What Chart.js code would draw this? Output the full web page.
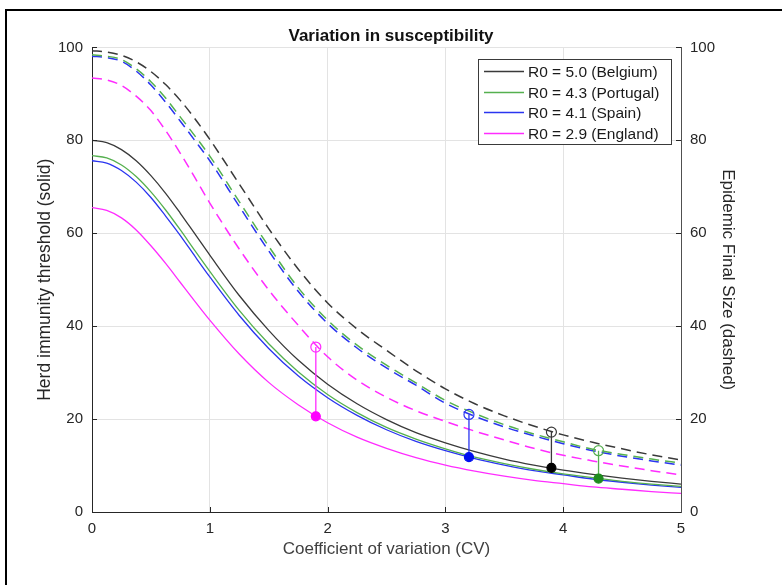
<!DOCTYPE html>
<html>
<head>
<meta charset="utf-8">
<title>Variation in susceptibility</title>
<script src="https://cdn.jsdelivr.net/npm/chart.js@4.4.1/dist/chart.umd.min.js"></script>
<style>
  html, body { margin: 0; padding: 0; background: #fff; }
  #wrap { position: relative; width: 782px; height: 585px; }
</style>
</head>
<body>
<div id="wrap"><canvas id="grafico" width="782" height="585"></canvas></div>
<script>
// coefficient of variation (x axis)
const cv = [0, 0.125, 0.25, 0.375, 0.5, 0.625, 0.75, 0.875, 1, 1.25, 1.5, 1.75, 2, 2.25, 2.5, 2.75, 3, 3.25, 3.5, 3.75, 4, 4.25, 4.5, 4.75, 5];

const countries = ['Belgium', 'Portugal', 'Spain', 'England'];
const r0Values = [5.0, 4.3, 4.1, 2.9];

// herd immunity threshold (solid), %
const hitBelgium  = [80.0, 79.5, 78.0, 75.6, 72.4, 68.6, 64.3, 59.8, 55.3, 46.6, 39.1, 32.7, 27.5, 23.3, 19.9, 17.1, 14.9, 13.0, 11.4, 10.1, 9.0, 8.1, 7.3, 6.6, 6.0];
const hitPortugal = [76.7, 76.2, 74.7, 72.2, 68.9, 65.0, 60.7, 56.2, 51.8, 43.4, 36.2, 30.2, 25.3, 21.4, 18.2, 15.7, 13.6, 11.8, 10.4, 9.2, 8.2, 7.4, 6.6, 6.0, 5.5];
const hitSpain    = [75.6, 75.1, 73.5, 71.0, 67.7, 63.7, 59.5, 55.0, 50.6, 42.3, 35.2, 29.3, 24.6, 20.8, 17.7, 15.2, 13.2, 11.5, 10.1, 8.9, 8.0, 7.1, 6.4, 5.8, 5.3];
const hitEngland  = [65.5, 64.9, 63.3, 60.7, 57.3, 53.5, 49.4, 45.3, 41.3, 34.0, 27.9, 23.1, 19.2, 16.1, 13.7, 11.7, 10.1, 8.8, 7.7, 6.8, 6.1, 5.4, 4.9, 4.4, 4.0];

// epidemic final size (dashed), %
const fsBelgium  = [99.3, 99.0, 98.3, 96.9, 94.8, 92.0, 88.6, 84.6, 80.2, 70.6, 61.0, 52.3, 45.0, 39.4, 34.8, 30.4, 26.5, 23.3, 20.7, 18.5, 16.6, 15.0, 13.6, 12.3, 11.2];
const fsPortugal = [98.4, 98.1, 97.4, 95.4, 92.6, 89.1, 85.0, 80.9, 76.6, 66.8, 57.2, 48.3, 41.3, 35.9, 31.6, 27.8, 24.0, 21.2, 18.8, 16.8, 15.1, 13.5, 12.4, 11.4, 10.5];
const fsSpain    = [98.1, 97.8, 97.0, 94.9, 91.9, 88.2, 84.1, 79.9, 75.6, 65.8, 56.2, 47.5, 40.6, 35.3, 31.0, 27.3, 23.4, 20.6, 18.3, 16.4, 14.7, 13.2, 12.0, 11.0, 10.1];
const fsEngland  = [93.4, 93.0, 91.8, 89.5, 86.4, 82.1, 77.2, 71.9, 66.5, 56.6, 47.8, 40.2, 33.4, 28.4, 24.7, 21.8, 19.5, 17.4, 15.5, 13.7, 12.2, 11.0, 9.9, 8.9, 8.0];

// estimated CV per country (stems)
const stemCV  = [3.9, 4.3, 3.2, 1.9];
const stemHIT = [9.5, 7.2, 11.8, 20.6];
const stemFS  = [17.2, 13.2, 21.0, 35.5];

const hitSeries = [hitBelgium, hitPortugal, hitSpain, hitEngland];
const fsSeries = [fsBelgium, fsPortugal, fsSpain, fsEngland];

const lineColors = ['#3a3a3a', '#55b04f', '#2a35f0', '#ff2cff'];
const dotColors = ['#000000', '#1e8c1e', '#0010f0', '#ff00ff'];
const fonte = '"Liberation Sans", Arial, Helvetica, sans-serif';
const corTexto = '#262626';
const corGrade = '#e3e3e3';

function serieXY(ys) {
    return cv.map((x, i) => ({ x: x, y: ys[i] }));
}

const datasets = [];
countries.forEach((pais, i) => {
    datasets.push({
        label: 'stem ' + pais,
        data: [{ x: stemCV[i], y: stemHIT[i] }, { x: stemCV[i], y: stemFS[i] }],
        borderColor: lineColors[i],
        borderWidth: 1.3,
        pointRadius: [4.5, 5],
        pointBorderWidth: 1.2,
        pointBorderColor: [dotColors[i], lineColors[i]],
        pointBackgroundColor: [dotColors[i], 'rgba(255,255,255,0)'],
        yAxisID: 'y',
        order: 0
    });
});
countries.forEach((pais, i) => {
    datasets.push({
        label: 'R0 = ' + r0Values[i].toFixed(1) + ' (' + pais + ')',
        data: serieXY(hitSeries[i]),
        borderColor: lineColors[i],
        borderWidth: 1.3,
        pointRadius: 0,
        cubicInterpolationMode: 'monotone',
        yAxisID: 'y',
        order: 1
    });
});
countries.forEach((pais, i) => {
    datasets.push({
        label: 'final size ' + pais,
        data: serieXY(fsSeries[i]),
        borderColor: lineColors[i],
        borderWidth: 1.5,
        borderDash: [10, 6],
        pointRadius: 0,
        cubicInterpolationMode: 'monotone',
        yAxisID: 'y1',
        order: 2
    });
});

const molduraPlugin = {
    id: 'moldura',
    beforeDraw(chart) {
        const ctx = chart.ctx;
        ctx.save();
        ctx.fillStyle = '#fff';
        ctx.fillRect(0, 0, chart.width, chart.height);
        ctx.fillStyle = '#000';
        ctx.fillRect(5, 9, 2, chart.height - 9);
        ctx.fillRect(5, 9, chart.width - 5, 2);
        ctx.restore();
    },
    afterDraw(chart) {
        const ctx = chart.ctx;
        const area = chart.chartArea;
        const sx = chart.scales.x, sy = chart.scales.y;
        ctx.save();
        ctx.lineWidth = 1;
        ctx.strokeStyle = corTexto;
        ctx.beginPath();
        for (let v = 1; v < 5; v++) {
            const px = Math.round(sx.getPixelForValue(v)) + 0.5;
            ctx.moveTo(px, area.bottom);
            ctx.lineTo(px, area.bottom - 5);
        }
        for (let v = 20; v <= 100; v += 20) {
            const py = Math.round(sy.getPixelForValue(v)) + 0.5;
            ctx.moveTo(area.left, py);
            ctx.lineTo(area.left + 5, py);
            ctx.moveTo(area.right, py);
            ctx.lineTo(area.right - 5, py);
        }
        ctx.stroke();
        ctx.restore();
    }
};

const legendaPlugin = {
    id: 'legendaInterna',
    afterDraw(chart) {
        const ctx = chart.ctx;
        const x0 = 478.5, y0 = 59.5, w = 193, h = 85;
        ctx.save();
        ctx.fillStyle = '#fff';
        ctx.fillRect(x0, y0, w, h);
        ctx.strokeStyle = '#3a3a3a';
        ctx.lineWidth = 1;
        ctx.strokeRect(x0, y0, w, h);
        ctx.font = '15.5px ' + fonte;
        ctx.textBaseline = 'middle';
        countries.forEach((pais, i) => {
            const y = Math.round(71 + i * 20.6) + 0.5;
            ctx.strokeStyle = lineColors[i];
            ctx.lineWidth = 1.3;
            ctx.beginPath();
            ctx.moveTo(484, y);
            ctx.lineTo(524, y);
            ctx.stroke();
            ctx.fillStyle = '#1a1a1a';
            ctx.fillText('R0 = ' + r0Values[i].toFixed(1) + ' (' + pais + ')', 528, y + 1);
        });
        ctx.restore();
    }
};

const ctxGrafico = document.getElementById('grafico').getContext('2d');
new Chart(ctxGrafico, {
    type: 'line',
    data: { datasets: datasets },
    options: {
        responsive: false,
        devicePixelRatio: 1,
        animation: false,
        layout: { padding: { top: 0, left: 0, right: 0, bottom: 0 } },
        plugins: {
            legend: { display: false },
            tooltip: { enabled: false },
            title: {
                display: true,
                text: 'Variation in susceptibility',
                color: '#111',
                font: { family: fonte, size: 17, weight: 'bold' },
                padding: { top: 26, bottom: 1 }
            }
        },
        scales: {
            x: {
                type: 'linear',
                min: 0,
                max: 5,
                ticks: { stepSize: 1, padding: 8, color: corTexto, font: { family: fonte, size: 15 } },
                grid: { color: corGrade, drawTicks: false },
                border: { color: corTexto, width: 1 },
                title: {
                    display: true,
                    text: 'Coefficient of variation (CV)',
                    color: '#404040',
                    font: { family: fonte, size: 17 },
                    padding: { top: 0, bottom: 25 }
                },
                afterFit: function(s) { s.height = 73; }
            },
            y: {
                position: 'left',
                min: 0,
                max: 100,
                ticks: { stepSize: 20, padding: 9, color: corTexto, font: { family: fonte, size: 15 } },
                grid: { color: corGrade, drawTicks: false },
                border: { color: corTexto, width: 1 },
                title: {
                    display: true,
                    text: 'Herd immunity threshold (solid)',
                    color: corTexto,
                    font: { family: fonte, size: 17.5 },
                    padding: { top: 35, bottom: 0 }
                },
                afterFit: function(s) { s.width = 92; }
            },
            y1: {
                position: 'right',
                min: 0,
                max: 100,
                ticks: { stepSize: 20, padding: 9, color: corTexto, font: { family: fonte, size: 15 } },
                grid: { drawOnChartArea: false, drawTicks: false },
                border: { color: '#505050', width: 1 },
                title: {
                    display: true,
                    text: 'Epidemic Final Size (dashed)',
                    color: corTexto,
                    font: { family: fonte, size: 17 },
                    padding: { top: 44, bottom: 0 }
                },
                afterFit: function(s) { s.width = 101; }
            }
        }
    },
    plugins: [molduraPlugin, legendaPlugin]
});
</script>
</body>
</html>
